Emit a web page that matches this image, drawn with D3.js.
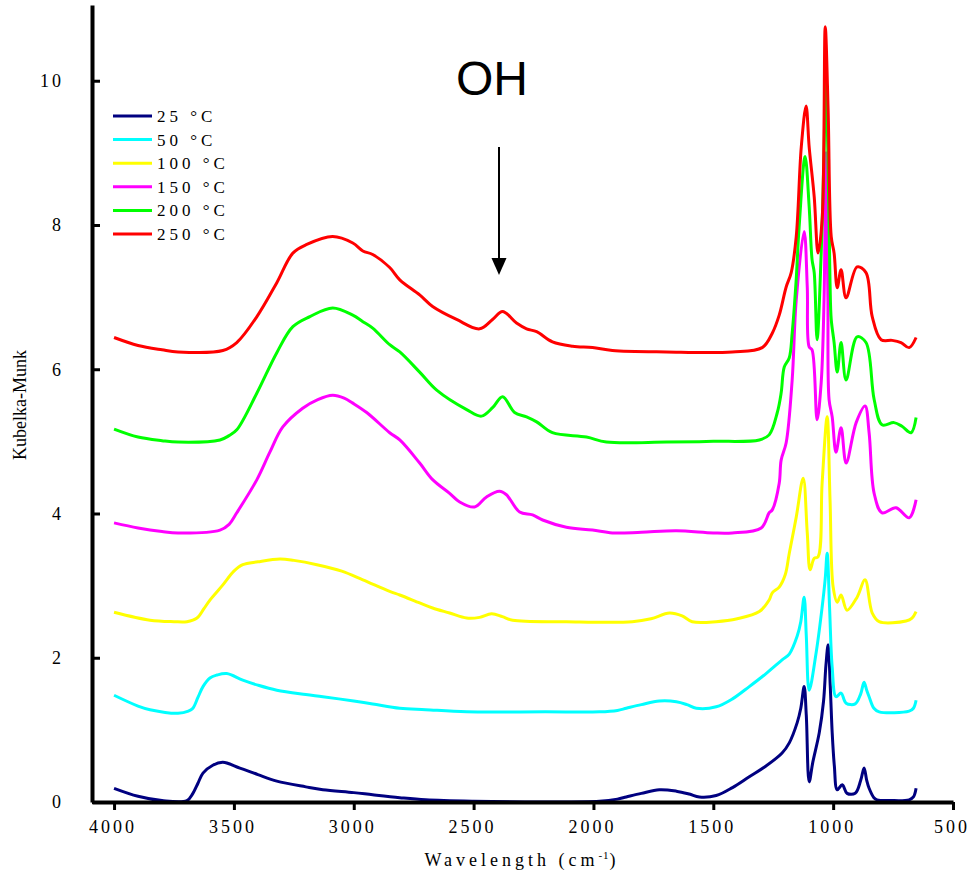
<html>
<head>
    <script src="https://d3js.org/d3.v7.min.js"></script>
    <title>Kubelka-Munk spectra</title>
    <style>
        body {margin: 0; background: #fff;}
    </style>
</head>
<body>
<svg id="chart"></svg>
<script>
    // x ticks and y ticks
    var X_TICKS = [4000, 3500, 3000, 2500, 2000, 1500, 1000, 500];
    var Y_TICKS = [0, 2, 4, 6, 8, 10];

    var LABELS = ["25 °C", "50 °C", "100 °C", "150 °C", "200 °C", "250 °C"];
    var COLORS = ["#000080", "#00ffff", "#ffff00", "#ff00ff", "#00ff00", "#ff0000"];

    // [wavenumber, Kubelka-Munk]
    var s25 = [[4000,0.19],[3900,0.08],[3800,0.02],[3696,0.02],[3671,0.12],[3650,0.26],[3629,0.40],[3588,0.51],[3546,0.55],[3475,0.47],[3400,0.38],[3321,0.29],[3200,0.21],[3129,0.17],[3000,0.13],[2921,0.10],[2808,0.06],[2700,0.03],[2500,0.01],[2200,0.0],[1975,0.01],[1900,0.04],[1863,0.07],[1800,0.12],[1725,0.17],[1654,0.15],[1600,0.11],[1558,0.07],[1488,0.09],[1420,0.2],[1350,0.35],[1280,0.5],[1213,0.68],[1183,0.82],[1150,1.1],[1135,1.3],[1121,1.60],[1112,1.2],[1100,0.28],[1085,0.55],[1058,0.96],[1040,1.4],[1030,1.9],[1021,2.18],[1012,1.6],[1004,0.96],[995,0.5],[983,0.17],[962,0.24],[942,0.12],[908,0.12],[885,0.3],[871,0.47],[860,0.3],[850,0.19],[830,0.06],[817,0.03],[760,0.02],[683,0.03],[665,0.07],[654,0.19]];

    var s50 = [[4000,1.48],[3900,1.33],[3850,1.28],[3733,1.23],[3690,1.26],[3671,1.30],[3650,1.45],[3629,1.60],[3600,1.72],[3571,1.76],[3530,1.78],[3463,1.69],[3400,1.62],[3321,1.55],[3200,1.49],[3129,1.46],[3000,1.40],[2921,1.36],[2808,1.30],[2700,1.28],[2529,1.25],[2200,1.25],[1975,1.25],[1900,1.27],[1863,1.30],[1800,1.35],[1725,1.40],[1654,1.39],[1610,1.35],[1571,1.30],[1488,1.32],[1420,1.43],[1350,1.60],[1280,1.78],[1213,1.97],[1183,2.05],[1150,2.3],[1135,2.5],[1121,2.84],[1112,2.3],[1100,1.55],[1071,2.07],[1046,2.70],[1033,3.1],[1025,3.45],[1015,2.7],[1004,1.87],[988,1.46],[967,1.51],[946,1.37],[908,1.36],[885,1.5],[871,1.66],[860,1.55],[850,1.46],[830,1.3],[808,1.25],[683,1.26],[665,1.3],[654,1.41]];

    var s100 = [[4000,2.63],[3850,2.52],[3750,2.50],[3696,2.50],[3654,2.55],[3625,2.68],[3600,2.80],[3546,3.01],[3500,3.2],[3463,3.29],[3400,3.33],[3308,3.37],[3250,3.35],[3154,3.29],[3050,3.2],[2962,3.08],[2850,2.92],[2808,2.87],[2725,2.76],[2671,2.69],[2600,2.62],[2529,2.55],[2475,2.56],[2425,2.61],[2380,2.57],[2337,2.52],[2113,2.50],[1838,2.50],[1760,2.54],[1683,2.62],[1630,2.58],[1588,2.50],[1488,2.50],[1400,2.54],[1308,2.64],[1267,2.80],[1254,2.90],[1225,2.98],[1200,3.15],[1183,3.45],[1154,3.95],[1125,4.49],[1108,3.73],[1096,3.22],[1079,3.38],[1063,3.40],[1046,4.42],[1025,5.34],[1013,4.19],[1000,2.98],[983,2.77],[967,2.87],[942,2.66],[900,2.84],[867,3.08],[837,2.62],[808,2.50],[696,2.51],[671,2.55],[654,2.64]];

    var s150 = [[4000,3.87],[3900,3.80],[3800,3.75],[3733,3.73],[3558,3.77],[3520,3.85],[3488,4.01],[3404,4.47],[3350,4.85],[3296,5.20],[3213,5.46],[3150,5.58],[3088,5.64],[3040,5.60],[3004,5.53],[2946,5.40],[2850,5.12],[2808,5.02],[2725,4.70],[2671,4.47],[2600,4.28],[2558,4.16],[2496,4.09],[2446,4.23],[2392,4.31],[2363,4.26],[2308,4.02],[2254,3.98],[2212,3.91],[2113,3.81],[2004,3.77],[1921,3.73],[1800,3.74],[1654,3.76],[1500,3.73],[1421,3.73],[1300,3.80],[1267,4.01],[1254,4.05],[1225,4.42],[1217,4.74],[1196,4.98],[1171,5.85],[1154,6.96],[1121,7.91],[1108,7.14],[1100,6.31],[1088,6.27],[1067,5.30],[1050,5.81],[1038,6.96],[1030,9.0],[1022,7.0],[1017,5.58],[1004,5.34],[988,4.85],[967,5.19],[946,4.70],[904,5.26],[867,5.49],[850,5.12],[829,4.28],[796,4.01],[738,4.08],[683,3.94],[654,4.19]];

    var s200 = [[4000,5.17],[3900,5.06],[3800,5.01],[3733,4.99],[3558,5.02],[3520,5.08],[3488,5.16],[3404,5.67],[3321,6.23],[3254,6.59],[3183,6.73],[3088,6.85],[3004,6.75],[2962,6.66],[2921,6.57],[2850,6.34],[2808,6.24],[2725,5.96],[2654,5.71],[2529,5.44],[2467,5.35],[2420,5.47],[2379,5.62],[2329,5.40],[2279,5.34],[2237,5.27],[2171,5.12],[2029,5.06],[1946,4.99],[1696,4.99],[1500,5.0],[1308,5.02],[1267,5.09],[1233,5.40],[1217,5.67],[1204,6.03],[1183,6.16],[1171,6.5],[1155,7.2],[1142,7.97],[1117,8.95],[1100,8.25],[1088,7.52],[1079,7.34],[1067,6.41],[1050,7.6],[1038,9.0],[1031,10.1],[1022,9.0],[1013,7.2],[1008,6.69],[996,6.37],[983,5.96],[967,6.37],[946,5.85],[900,6.45],[863,6.37],[829,5.58],[796,5.23],[746,5.26],[713,5.21],[675,5.12],[654,5.33]];

    var s250 = [[4000,6.44],[3900,6.33],[3800,6.27],[3733,6.24],[3546,6.26],[3488,6.37],[3404,6.73],[3321,7.20],[3254,7.61],[3196,7.73],[3088,7.84],[3004,7.75],[2962,7.64],[2921,7.59],[2850,7.41],[2808,7.24],[2725,7.03],[2671,6.87],[2571,6.69],[2475,6.56],[2421,6.69],[2379,6.80],[2321,6.64],[2279,6.56],[2237,6.52],[2171,6.38],[2087,6.32],[2004,6.30],[1921,6.26],[1696,6.24],[1421,6.24],[1296,6.30],[1254,6.50],[1225,6.75],[1196,7.14],[1175,7.34],[1154,7.84],[1133,9.08],[1113,9.65],[1100,9.08],[1079,8.39],[1063,7.61],[1046,8.07],[1033,10.75],[1021,9.6],[1008,7.84],[996,7.61],[983,7.13],[967,7.38],[946,6.99],[900,7.42],[863,7.34],[837,6.73],[800,6.41],[754,6.40],[717,6.37],[683,6.30],[654,6.44]];

    var SERIES = [s25, s50, s100, s150, s200, s250];

    var svg = d3.select("#chart")
        .attr("width", 970)
        .attr("height", 873);

    var serif = "'Liberation Serif', 'Times New Roman', serif";

    // the scales
    var x = d3.scaleLinear().domain([4092, 500]).range([92, 953]);
    var y = d3.scaleLinear().domain([0, 11.05]).range([802, 5]);

    var line = d3.line()
        .x(function (d) {return x(d[0]);})
        .y(function (d) {return y(d[1]);})
        .curve(d3.curveCatmullRom.alpha(0.5));

    // curves, 25 C first so 250 C ends on top
    svg.selectAll(".curve")
        .data(SERIES)
        .enter()
        .append("path")
        .attr("class", "curve")
        .attr("fill", "none")
        .attr("stroke", function (d, i) {return COLORS[i];})
        .attr("stroke-width", 3)
        .attr("stroke-linejoin", "round")
        .attr("d", line);

    // the axes
    var xAxis = d3.axisBottom(x).tickValues(X_TICKS).tickFormat(d3.format("d"))
        .tickSize(8).tickSizeOuter(0).tickPadding(10);
    var yAxis = d3.axisLeft(y).tickValues(Y_TICKS).tickFormat(d3.format("d"))
        .tickSize(-8).tickSizeOuter(0).tickPadding(28);

    var gx = svg.append("g")
        .attr("transform", "translate(0,802)")
        .call(xAxis);

    var gy = svg.append("g")
        .attr("transform", "translate(92,0)")
        .call(yAxis);

    [gx, gy].forEach(function (g) {
        g.attr("font-family", serif).attr("font-size", 18);
        g.select(".domain").attr("stroke", "#000").attr("stroke-width", 4);
        g.selectAll(".tick line").attr("stroke", "#000").attr("stroke-width", 3);
        g.selectAll(".tick text")
            .attr("fill", "#000")
            .style("font-family", serif)
            .style("font-size", "18px")
            .style("letter-spacing", "3px");
    });
    // letter-spacing leaves a trailing gap, pull labels back by half of it
    gx.selectAll(".tick text").attr("dx", "-1.5");

    // axis titles
    var xt = svg.append("text")
        .attr("x", 522)
        .attr("y", 866)
        .attr("text-anchor", "middle")
        .style("font-family", serif)
        .style("font-size", "18px")
        .style("letter-spacing", "4px");
    xt.append("tspan").text("Wavelength (cm");
    xt.append("tspan").attr("dy", -7).style("font-size", "11px").style("letter-spacing", "1px").text("-1");
    xt.append("tspan").attr("dy", 7).text(")");

    svg.append("text")
        .attr("transform", "translate(26,405) rotate(-90)")
        .attr("text-anchor", "middle")
        .style("font-family", serif)
        .style("font-size", "18px")
        .text("Kubelka-Munk");

    // legend
    var legend = svg.selectAll(".legend")
        .data(LABELS)
        .enter()
        .append("g")
        .attr("class", "legend")
        .attr("transform", function (d, i) {return "translate(113," + (116 + i * 23.6) + ")";});

    legend.append("line")
        .attr("x1", 0).attr("x2", 39)
        .attr("stroke", function (d, i) {return COLORS[i];})
        .attr("stroke-width", 3);

    legend.append("text")
        .attr("x", 44)
        .attr("dy", "0.35em")
        .style("font-family", serif)
        .style("font-size", "17px")
        .style("letter-spacing", "4px")
        .text(function (d) {return d;});

    // OH annotation
    svg.append("text")
        .attr("x", 492)
        .attr("y", 95)
        .attr("text-anchor", "middle")
        .style("font-family", "'Liberation Sans', Arial, sans-serif")
        .style("font-size", "48px")
        .text("OH");

    svg.append("line")
        .attr("x1", 499).attr("x2", 499)
        .attr("y1", 147).attr("y2", 260)
        .attr("stroke", "#000")
        .attr("stroke-width", 2);

    svg.append("path")
        .attr("d", "M491.5,258L506.5,258L499,275Z")
        .attr("fill", "#000");
</script>
</body>
</html>
